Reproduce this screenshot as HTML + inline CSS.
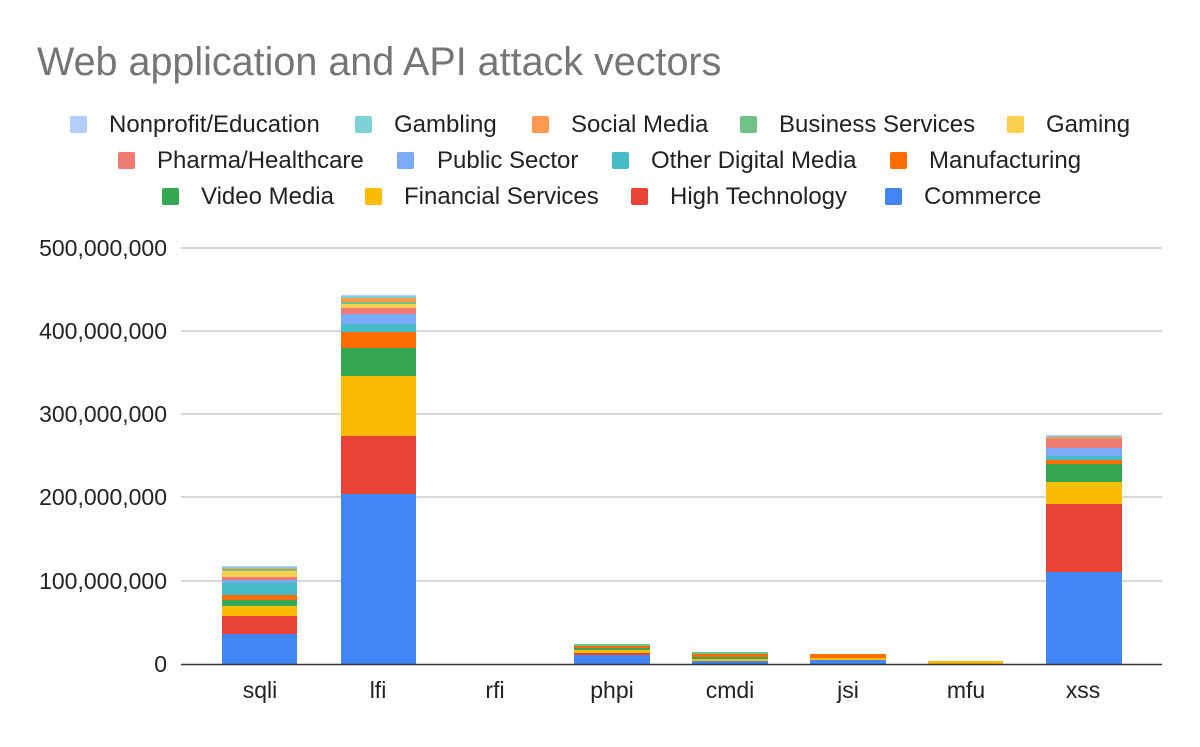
<!DOCTYPE html>
<html><head><style>body{margin:0;background:#fff}svg text{font-family:"Liberation Sans",Arial,sans-serif}</style></head><body>
<svg width="1200" height="742" xmlns="http://www.w3.org/2000/svg">
<rect width="1200" height="742" fill="#fff"/>
<text x="37" y="75" font-size="39.5" fill="#757575">Web application and API attack vectors</text>
<g font-size="24" fill="#222">
<rect x="70" y="116" width="17" height="17" rx="2" fill="#b3cefb"/><text x="109" y="132">Nonprofit/Education</text>
<rect x="355" y="116" width="17" height="17" rx="2" fill="#7ed1d7"/><text x="394" y="132">Gambling</text>
<rect x="532" y="116" width="17" height="17" rx="2" fill="#ff994d"/><text x="571" y="132">Social Media</text>
<rect x="740" y="116" width="17" height="17" rx="2" fill="#71c287"/><text x="779" y="132">Business Services</text>
<rect x="1007" y="116" width="17" height="17" rx="2" fill="#fcd04f"/><text x="1046" y="132">Gaming</text>
<rect x="118" y="152" width="17" height="17" rx="2" fill="#f07b72"/><text x="157" y="168">Pharma/Healthcare</text>
<rect x="397" y="152" width="17" height="17" rx="2" fill="#7baaf7"/><text x="437" y="168">Public Sector</text>
<rect x="612" y="152" width="17" height="17" rx="2" fill="#46bdc6"/><text x="651" y="168">Other Digital Media</text>
<rect x="890" y="152" width="17" height="17" rx="2" fill="#ff6d01"/><text x="929" y="168">Manufacturing</text>
<rect x="162" y="188" width="17" height="17" rx="2" fill="#34a853"/><text x="201" y="204">Video Media</text>
<rect x="365" y="188" width="17" height="17" rx="2" fill="#fbbc04"/><text x="404" y="204">Financial Services</text>
<rect x="631" y="188" width="17" height="17" rx="2" fill="#ea4335"/><text x="670" y="204">High Technology</text>
<rect x="885" y="188" width="17" height="17" rx="2" fill="#4285f4"/><text x="924" y="204">Commerce</text>
</g>
<g stroke="#ccc" stroke-width="1.5">
<line x1="181" x2="1162" y1="248" y2="248"/><line x1="181" x2="1162" y1="331" y2="331"/><line x1="181" x2="1162" y1="414" y2="414"/><line x1="181" x2="1162" y1="497" y2="497"/><line x1="181" x2="1162" y1="581" y2="581"/>
</g>
<g font-size="23" fill="#222" text-anchor="end">
<text x="167" y="256">500,000,000</text><text x="167" y="339">400,000,000</text><text x="167" y="422">300,000,000</text><text x="167" y="505">200,000,000</text><text x="167" y="589">100,000,000</text><text x="167" y="672">0</text>
</g>
<g>
<rect x="222" y="634" width="75" height="30" fill="#4285f4"/>
<rect x="222" y="616" width="75" height="18" fill="#ea4335"/>
<rect x="222" y="606" width="75" height="10" fill="#fbbc04"/>
<rect x="222" y="600" width="75" height="6" fill="#34a853"/>
<rect x="222" y="595" width="75" height="5" fill="#ff6d01"/>
<rect x="222" y="583" width="75" height="12" fill="#46bdc6"/>
<rect x="222" y="580" width="75" height="3" fill="#7baaf7"/>
<rect x="222" y="577" width="75" height="3" fill="#f07b72"/>
<rect x="222" y="571" width="75" height="6" fill="#fcd04f"/>
<rect x="222" y="569" width="75" height="2" fill="#71c287"/>
<rect x="222" y="568" width="75" height="1" fill="#ff994d"/>
<rect x="222" y="567" width="75" height="1" fill="#7ed1d7"/>
<rect x="222" y="566" width="75" height="1" fill="#b3cefb"/>
</g>
<g>
<rect x="341" y="494" width="75" height="170" fill="#4285f4"/>
<rect x="341" y="436" width="75" height="58" fill="#ea4335"/>
<rect x="341" y="376" width="75" height="60" fill="#fbbc04"/>
<rect x="341" y="348" width="75" height="28" fill="#34a853"/>
<rect x="341" y="332" width="75" height="16" fill="#ff6d01"/>
<rect x="341" y="324" width="75" height="8" fill="#46bdc6"/>
<rect x="341" y="314" width="75" height="10" fill="#7baaf7"/>
<rect x="341" y="308" width="75" height="6" fill="#f07b72"/>
<rect x="341" y="304" width="75" height="4" fill="#fcd04f"/>
<rect x="341" y="302" width="75" height="2" fill="#71c287"/>
<rect x="341" y="298" width="75" height="4" fill="#ff994d"/>
<rect x="341" y="296" width="75" height="2" fill="#7ed1d7"/>
<rect x="341" y="295" width="75" height="1" fill="#b3cefb"/>
</g>
<g>
<rect x="574" y="655" width="76" height="9" fill="#4285f4"/>
<rect x="574" y="653" width="76" height="2" fill="#ea4335"/>
<rect x="574" y="650" width="76" height="3" fill="#fbbc04"/>
<rect x="574" y="648" width="76" height="2" fill="#34a853"/>
<rect x="574" y="646" width="76" height="2" fill="#ff6d01"/>
<rect x="574" y="644" width="76" height="2" fill="#71c287"/>
</g>
<g>
<rect x="692" y="661" width="76" height="3" fill="#4285f4"/>
<rect x="692" y="659" width="76" height="2" fill="#fbbc04"/>
<rect x="692" y="657" width="76" height="2" fill="#34a853"/>
<rect x="692" y="654" width="76" height="3" fill="#ff6d01"/>
<rect x="692" y="652" width="76" height="2" fill="#71c287"/>
</g>
<g>
<rect x="810" y="660" width="76" height="4" fill="#4285f4"/>
<rect x="810" y="658" width="76" height="2" fill="#fbbc04"/>
<rect x="810" y="654" width="76" height="4" fill="#ff6d01"/>
</g>
<rect x="928" y="661" width="75" height="3" fill="#fbbc04"/>
<g>
<rect x="1046" y="572" width="76" height="92" fill="#4285f4"/>
<rect x="1046" y="504" width="76" height="68" fill="#ea4335"/>
<rect x="1046" y="482" width="76" height="22" fill="#fbbc04"/>
<rect x="1046" y="464" width="76" height="18" fill="#34a853"/>
<rect x="1046" y="460" width="76" height="4" fill="#ff6d01"/>
<rect x="1046" y="456" width="76" height="4" fill="#46bdc6"/>
<rect x="1046" y="448" width="76" height="8" fill="#7baaf7"/>
<rect x="1046" y="439" width="76" height="9" fill="#f07b72"/>
<rect x="1046" y="437" width="76" height="2" fill="#ff994d"/>
<rect x="1046" y="436" width="76" height="1" fill="#7ed1d7"/>
<rect x="1046" y="435" width="76" height="1" fill="#b3cefb"/>
</g>
<line x1="181" x2="1162" y1="664.5" y2="664.5" stroke="#333" stroke-width="1.5"/>
<g font-size="23" fill="#222" text-anchor="middle">
<text x="260" y="698">sqli</text><text x="378" y="698">lfi</text><text x="495" y="698">rfi</text><text x="612" y="698">phpi</text><text x="730" y="698">cmdi</text><text x="848" y="698">jsi</text><text x="966" y="698">mfu</text><text x="1083" y="698">xss</text>
</g>
</svg>
</body></html>
